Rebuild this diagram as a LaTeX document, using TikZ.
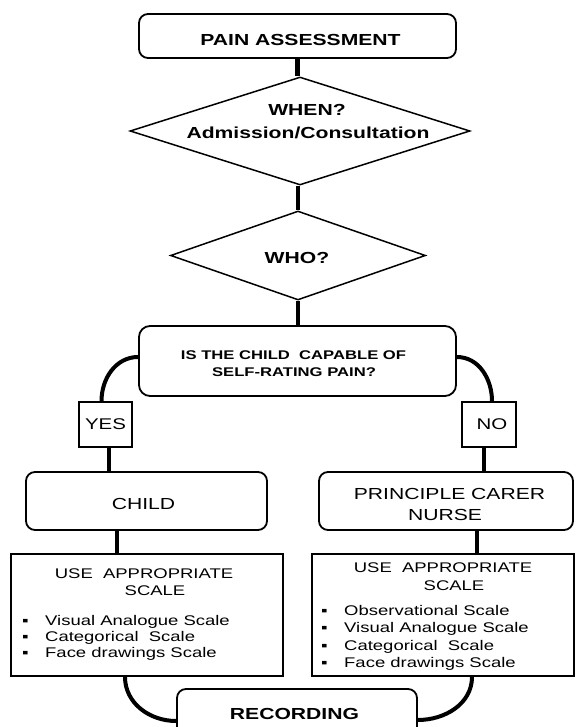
\documentclass[tikz,border=0pt]{standalone}
\usepackage{fontspec}
\setmainfont{Liberation Sans}[FakeStretch=1.32]
\usetikzlibrary{shapes.geometric,calc}

\newcommand\szTitle{\fontsize{16}{19}\selectfont}
\newcommand\szQuest{\fontsize{12.6}{15}\selectfont}
\newcommand\szAns{\fontsize{15.5}{18}\selectfont}
\newcommand\szWho{\fontsize{16}{19}\selectfont}
\newcommand\szList{\fontsize{14}{16.5}\selectfont}
\newcommand\bul{\makebox[23pt][l]{▪}}

\tikzset{
  conn/.style={line width=4.5pt},
  bendline/.style={line width=4pt},
  rbox/.style={draw, line width=1.8pt, rounded corners=9pt, inner sep=0pt},
  sbox/.style={draw, line width=1.8pt, inner sep=0pt},
  decision/.style={draw, diamond, line width=1.5pt, inner sep=0pt},
  lbl/.style={inner sep=0pt, anchor=base},
}

\begin{document}
\begin{tikzpicture}[x=1pt,y=-1pt]
\useasboundingbox (0,0) rectangle (575,727);
\clip (0,0) rectangle (575,727);
\fill[white] (0,0) rectangle (575,727);

% ---- shapes ----
\node[rbox, minimum width=317pt, minimum height=44pt] (start) at (297.5,36) {};
\node[decision, minimum width=340pt, minimum height=108pt] (when) at (300,131) {};
\node[decision, minimum width=255pt, minimum height=89pt] (who) at (298,255.5) {};
\node[rbox, rounded corners=11pt, minimum width=317pt, minimum height=70pt] (capable) at (297.5,361) {};
\node[sbox, minimum width=53pt, minimum height=45pt] (yes) at (105.5,424.5) {};
\node[sbox, minimum width=54pt, minimum height=45pt] (no) at (489,424.5) {};
\node[rbox, minimum width=241pt, minimum height=58pt] (child) at (146.5,501) {};
\node[rbox, minimum width=254pt, minimum height=58pt] (carer) at (446,501) {};
\node[sbox, minimum width=272pt, minimum height=122pt] (scaleL) at (147,615) {};
\node[sbox, minimum width=262pt, minimum height=122pt] (scaleR) at (443,615) {};
\node[rbox, minimum width=240pt, minimum height=48pt] (record) at (297,713) {};

% ---- texts ----
\node[lbl, font=\szTitle\bfseries] (tStart) at (300.5,45.7) {PAIN ASSESSMENT};
\node[lbl, font=\szTitle\bfseries] (tWhenA) at (307,116) {WHEN?};
\node[lbl, font=\szTitle\bfseries] (tWhenB) at (308,138.3) {Admission/Consultation};
\node[lbl, font=\szWho\bfseries] (tWho) at (297,263.3) {WHO?};
\node[lbl, font=\szQuest\bfseries] (tCapA) at (293.5,359.3) {IS THE CHILD\ \ CAPABLE OF};
\node[lbl, font=\szQuest\bfseries] (tCapB) at (294,376) {SELF-RATING PAIN?};
\node[lbl, font=\szAns] (tYes) at (105.5,429.3) {YES};
\node[lbl, font=\szAns] (tNo) at (492,429.3) {NO};
\node[lbl, font=\szTitle] (tChild) at (143.5,509.3) {CHILD};
\node[lbl, font=\szTitle] (tCarerA) at (449.5,499.3) {PRINCIPLE CARER};
\node[lbl, font=\szTitle] (tCarerB) at (445,520.7) {NURSE};

\node[lbl, font=\szList] (hLA) at (144,578.5) {USE\ \ APPROPRIATE};
\node[lbl, font=\szList] (hLB) at (155,595) {SCALE};
\node[lbl, anchor=base west, font=\szList] (lA) at (22,625) {\bul Visual Analogue Scale};
\node[lbl, anchor=base west, font=\szList] (lB) at (22,641) {\bul Categorical\ \ Scale};
\node[lbl, anchor=base west, font=\szList] (lC) at (22,657) {\bul Face drawings Scale};

\node[lbl, font=\szList] (hRA) at (443,572) {USE\ \ APPROPRIATE};
\node[lbl, font=\szList] (hRB) at (454,590) {SCALE};
\node[lbl, anchor=base west, font=\szList] (rA) at (321,615) {\bul Observational Scale};
\node[lbl, anchor=base west, font=\szList] (rB) at (321,632.5) {\bul Visual Analogue Scale};
\node[lbl, anchor=base west, font=\szList] (rC) at (321,650) {\bul Categorical\ \ Scale};
\node[lbl, anchor=base west, font=\szList] (rD) at (321,667.5) {\bul Face drawings Scale};

\node[lbl, font=\szTitle\bfseries] (tRecord) at (294.5,719) {RECORDING};

% ---- connector end points ----
\coordinate (capL) at ($(capable.west)+(0,-4)$);
\coordinate (capR) at ($(capable.east)+(0,-4)$);
\coordinate (yesIn) at ($(yes.north)+(-4,0)$);
\coordinate (yesOut) at ($(yes.south)+(3.5,0)$);
\coordinate (noIn) at ($(no.north)+(3,0)$);
\coordinate (noOut) at ($(no.south)+(-5,0)$);
\coordinate (childOut) at ($(child.south)+(-29.5,0)$);
\coordinate (carerOut) at ($(carer.south)+(31,0)$);
\coordinate (sclOut) at ($(scaleL.south)+(-22,0)$);
\coordinate (scrOut) at ($(scaleR.south)+(29,0)$);
\coordinate (recL) at ($(record.west)+(0,8)$);
\coordinate (recR) at ($(record.east)+(0,7)$);

% ---- connectors ----
\draw[conn] (start.south) -- (start.south |- when.north);
\draw[conn] (who.north |- when.south) -- (who.north);
\draw[conn] (who.south) -- (who.south |- capable.north);
\draw[bendline] (capL) to[out=180,in=90] (yesIn);
\draw[bendline] (capR) to[out=0,in=90] (noIn);
\draw[conn] (yesOut) -- (yesOut |- child.north);
\draw[conn] (noOut) -- (noOut |- carer.north);
\draw[conn] (childOut) -- (childOut |- scaleL.north);
\draw[conn] (carerOut) -- (carerOut |- scaleR.north);
\draw[bendline] (sclOut) to[out=-90,in=180] (recL);
\draw[bendline] (scrOut) to[out=-90,in=0] (recR);
\end{tikzpicture}
\end{document}
